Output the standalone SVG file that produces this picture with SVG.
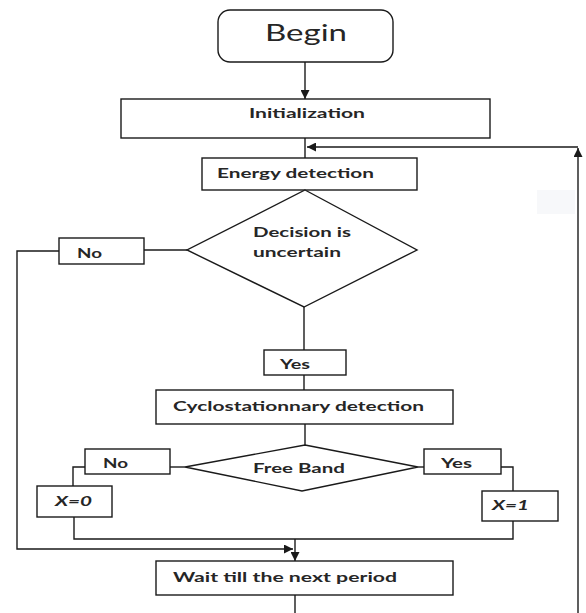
<svg xmlns="http://www.w3.org/2000/svg" width="586" height="613" viewBox="0 0 586 613">
<defs>
<style>
.box{fill:#fff;stroke:#1a1a1a;stroke-width:1.4}
.ln{fill:none;stroke:#1a1a1a;stroke-width:1.4}
.t{font-family:Lato,"Open Sans","Liberation Sans",sans-serif;font-weight:bold;font-size:14px;fill:#262626}
.it{font-style:italic}
</style>
<marker id="ah" viewBox="0 0 10 10" refX="10" refY="5" markerWidth="9" markerHeight="9" markerUnits="userSpaceOnUse" orient="auto">
<path d="M0,0 L10,5 L0,10 z" fill="#1a1a1a"/>
</marker>
</defs>
<rect width="586" height="613" fill="#fff"/>
<rect x="537" y="190" width="38" height="24" fill="#f7f8fa"/>

<g id="connectors">
<line class="ln" x1="305" y1="62" x2="305" y2="99" marker-end="url(#ah)"/>
<line class="ln" x1="305" y1="138" x2="305" y2="158"/>
<line class="ln" x1="578" y1="613" x2="578" y2="148" marker-end="url(#ah)"/>
<line class="ln" x1="578" y1="147" x2="307" y2="147" marker-end="url(#ah)"/>
<line class="ln" x1="187" y1="250" x2="144" y2="250"/>
<polyline class="ln" points="59,251 17,251 17,549 293,549" marker-end="url(#ah)"/>
<line class="ln" x1="304" y1="307" x2="304" y2="350"/>
<line class="ln" x1="304" y1="375" x2="304" y2="390"/>
<line class="ln" x1="305" y1="424" x2="305" y2="445"/>
<line class="ln" x1="185" y1="467" x2="170" y2="467"/>
<polyline class="ln" points="85,467 73,467 73,486"/>
<polyline class="ln" points="74,517 74,539 513,539 513,521"/>
<line class="ln" x1="418" y1="467" x2="424" y2="467"/>
<polyline class="ln" points="501,467 513,467 513,491"/>
<line class="ln" x1="295" y1="539" x2="295" y2="561" marker-end="url(#ah)"/>
<line class="ln" x1="295" y1="595" x2="295" y2="613"/>
</g>

<g id="begin">
<rect class="box" x="218" y="10" width="175" height="52" rx="12"/>
<text class="t" x="306" y="41" text-anchor="middle" style="font-weight:normal;font-size:23px" textLength="82" lengthAdjust="spacingAndGlyphs">Begin</text>
</g>

<g id="init">
<rect class="box" x="121" y="99" width="369" height="39"/>
<text class="t" x="249" y="118" textLength="116" lengthAdjust="spacingAndGlyphs">Initialization</text>
</g>

<g id="energy">
<rect class="box" x="202" y="158" width="215" height="32"/>
<text class="t" x="217" y="178" textLength="157" lengthAdjust="spacingAndGlyphs">Energy detection</text>
</g>

<g id="decision">
<polygon class="box" points="305,190 417,250 304,307 187,250"/>
<text class="t" x="253" y="237" textLength="98" lengthAdjust="spacingAndGlyphs">Decision is</text>
<text class="t" x="253" y="257" textLength="88" lengthAdjust="spacingAndGlyphs">uncertain</text>
</g>

<g id="no1">
<rect class="box" x="59" y="238" width="85" height="26"/>
<text class="t" x="77" y="258" textLength="25" lengthAdjust="spacingAndGlyphs">No</text>
</g>

<g id="yes1">
<rect class="box" x="264" y="350" width="82" height="25"/>
<text class="t" x="280" y="369" textLength="30" lengthAdjust="spacingAndGlyphs">Yes</text>
</g>

<g id="cyclo">
<rect class="box" x="156" y="390" width="297" height="34"/>
<text class="t" x="173" y="411" textLength="251" lengthAdjust="spacingAndGlyphs">Cyclostationnary detection</text>
</g>

<g id="freeband">
<polygon class="box" points="305,445 418,467 302,491 185,467"/>
<text class="t" x="253" y="473" textLength="92" lengthAdjust="spacingAndGlyphs">Free Band</text>
</g>

<g id="no2">
<rect class="box" x="85" y="449" width="85" height="25"/>
<text class="t" x="103" y="468" textLength="25" lengthAdjust="spacingAndGlyphs">No</text>
</g>

<g id="yes2">
<rect class="box" x="424" y="449" width="77" height="25"/>
<text class="t" x="441" y="468" textLength="31" lengthAdjust="spacingAndGlyphs">Yes</text>
</g>

<g id="x0">
<rect class="box" x="37" y="486" width="75" height="31"/>
<text class="t it" x="55" y="506" textLength="37" lengthAdjust="spacingAndGlyphs">X=0</text>
</g>

<g id="x1">
<rect class="box" x="482" y="491" width="76" height="30"/>
<text class="t it" x="492" y="510" textLength="37" lengthAdjust="spacingAndGlyphs">X=1</text>
</g>

<g id="wait">
<rect class="box" x="156" y="561" width="297" height="34"/>
<text class="t" x="173" y="582" textLength="224" lengthAdjust="spacingAndGlyphs">Wait till the next period</text>
</g>
</svg>
